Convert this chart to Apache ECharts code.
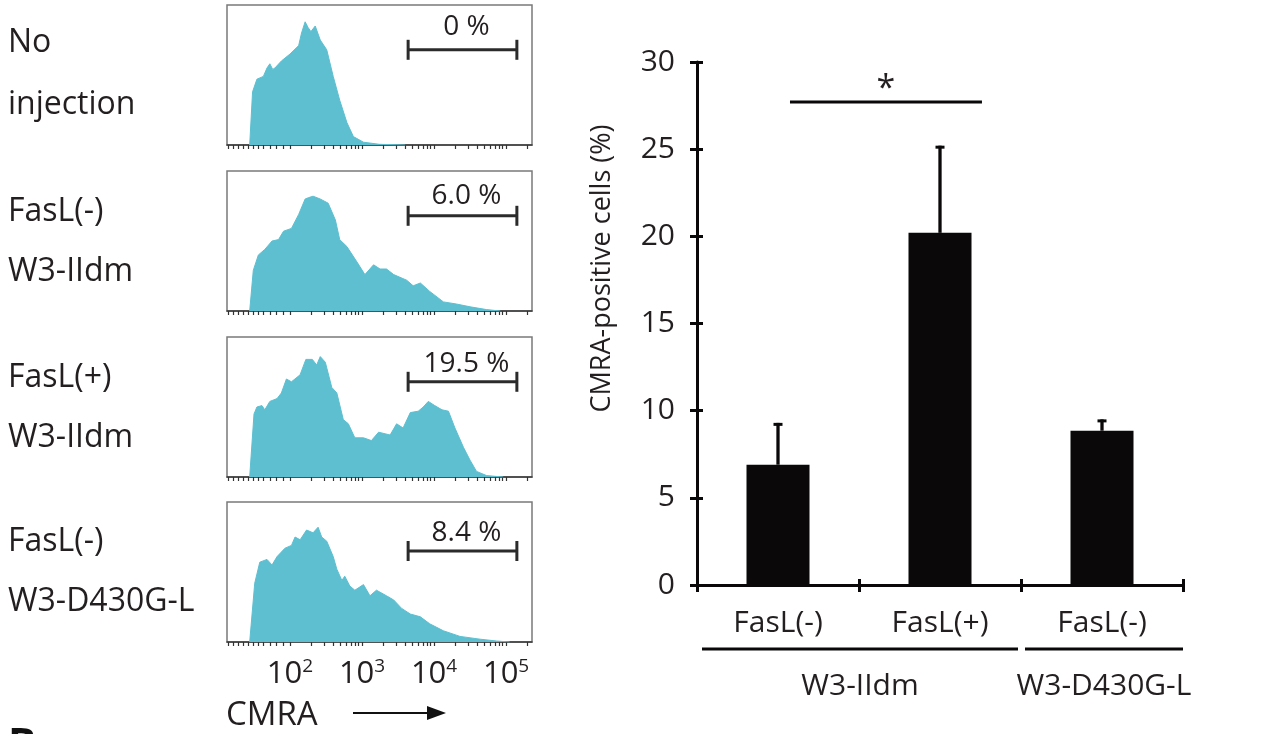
<!DOCTYPE html>
<html><head><meta charset="utf-8">
<script src="https://cdn.jsdelivr.net/npm/echarts@6/dist/echarts.min.js"></script>
<style>html,body{margin:0;padding:0;background:#fff}#c{width:1280px;height:734px}</style>
</head><body><div id="c"></div>
<script>
// ---------- data: flow cytometry histograms (x = log10 CMRA, y = % of panel height) ----------
const panelLabels = [['No', 'injection'], ['FasL(-)', 'W3-IIdm'], ['FasL(+)', 'W3-IIdm'], ['FasL(-)', 'W3-D430G-L']];
const gatePercents = ['0 %', '6.0 %', '19.5 %', '8.4 %'];
const gateRange = [3.64, 5.15];
const histDecades = [2, 3, 4, 5];
const histDecadeLabels = ['2', '3', '4', '5'];
const histTickPositions = [1.14, 1.21, 1.28, 1.35, 1.42, 1.49, 1.56, 1.63, 1.72, 1.81, 1.90,
  2.00, 2.30, 2.48, 2.60, 2.70, 2.78, 2.85, 2.90, 2.95,
  3.00, 3.30, 3.48, 3.60, 3.70, 3.78, 3.85, 3.90, 3.95,
  4.00, 4.30, 4.48, 4.60, 4.70, 4.78, 4.85, 4.90, 4.95,
  5.00, 5.30];

const noInjection = [[1.44, 0], [1.48, 38], [1.54, 47], [1.63, 49], [1.68, 55], [1.72, 58], [1.76, 54], [1.79, 55],
  [1.88, 60], [2.00, 65], [2.12, 71], [2.16, 80], [2.21, 88], [2.25, 84], [2.29, 81], [2.35, 85], [2.42, 75],
  [2.51, 68], [2.60, 49], [2.69, 32], [2.79, 16], [2.88, 6], [3.02, 2], [3.24, 0.5], [3.60, 0]];

const fasLNegIIdm = [[1.44, 0], [1.49, 29], [1.56, 40], [1.65, 44], [1.75, 50], [1.84, 51], [1.91, 57], [2.02, 59],
  [2.12, 69], [2.21, 80], [2.26, 81], [2.32, 82], [2.42, 80], [2.53, 77], [2.63, 65], [2.69, 51], [2.79, 46],
  [2.93, 35], [3.04, 26], [3.16, 33], [3.25, 30], [3.34, 30], [3.44, 26], [3.62, 22], [3.71, 18], [3.81, 20],
  [3.94, 14], [4.13, 6.5], [4.31, 5], [4.50, 3], [4.73, 1], [4.92, 0]];

const fasLPosIIdm = [[1.44, 0], [1.50, 45], [1.54, 50], [1.61, 51], [1.65, 48], [1.72, 54], [1.82, 56], [1.88, 60], [1.95, 70],
  [2.02, 68], [2.14, 73], [2.22, 84], [2.31, 84], [2.37, 80], [2.42, 86], [2.49, 82], [2.58, 64], [2.65, 60],
  [2.74, 41], [2.81, 38], [2.90, 28], [3.02, 28], [3.13, 26], [3.23, 32], [3.39, 30], [3.48, 38], [3.57, 35],
  [3.67, 46], [3.78, 47], [3.85, 50], [3.92, 54], [4.01, 51], [4.11, 48], [4.20, 47], [4.29, 35], [4.41, 21],
  [4.50, 12], [4.59, 4], [4.73, 1], [4.96, 0]];

const fasLNegD430 = [[1.44, 0], [1.51, 42], [1.58, 57], [1.68, 59], [1.75, 55], [1.82, 61], [1.93, 67], [2.02, 69],
  [2.07, 75], [2.14, 73], [2.23, 80], [2.32, 78], [2.39, 82], [2.44, 75], [2.51, 72], [2.60, 61], [2.65, 52],
  [2.72, 44], [2.76, 47], [2.83, 40], [2.90, 37], [3.02, 41], [3.11, 33], [3.20, 37], [3.34, 33], [3.44, 30],
  [3.55, 24], [3.67, 20], [3.81, 18], [3.94, 13], [4.13, 8], [4.36, 4], [4.64, 2], [4.87, 0.7], [5.05, 0]];

const histSeriesData = [noInjection, fasLNegIIdm, fasLPosIIdm, fasLNegD430];

// ---------- data: bar chart ----------
const categories = ['FasL(-)', 'FasL(+)', 'FasL(-)'];
const groupNames = ['W3-IIdm', 'W3-D430G-L'];
const groupSpans = [[0, 2], [2, 3]];
const meanValues = [6.9, 20.2, 8.85];
const errorValues = [2.4, 5.0, 0.65];
const significance = '*';

// ---------- layout / styling ----------
const FONT = '"Open Sans", "Noto Sans", sans-serif';
const INK = '#231f20';
const BAR = '#0b0809';
const HIST = '#5dbfd0';
const histTops = [5, 171, 337, 502];
const gateLevels = [68, 68, 68, 65];
const gateLabelLevels = [84, 82, 81, 78];
const labelMiddles = [[43, 105], [212, 272], [378, 438], [542, 602]];
const sigSpan = [0.574, 1.759];
const sigLevel = 27.7;

const grids = histTops.map(t => ({left: 227, top: t, width: 305, height: 140, show: true, borderColor: '#7a7a7a', borderWidth: 1.5}));
grids.push({left: 697, top: 62, width: 486, height: 523});

const xAxes = histTops.map((t, i) => ({
  gridIndex: i, type: 'value', min: 1.125, max: 5.36, position: 'bottom',
  axisLine: {show: true, onZero: false, lineStyle: {color: '#3a3a3a', width: 1.5}},
  axisTick: {show: true, customValues: histTickPositions, length: 4, lineStyle: {color: '#333', width: 1.2}},
  axisLabel: {
    show: i === 3, customValues: histDecades, margin: 15,
    formatter: v => '{b|10}{s|' + histDecadeLabels[histDecades.indexOf(Math.round(v))] + '}',
    rich: {b: {fontSize: 31, color: INK, fontFamily: FONT}, s: {fontSize: 19, color: INK, fontFamily: FONT, padding: [0, 0, 16, 0]}}
  },
  splitLine: {show: false}
}));
xAxes.push({
  gridIndex: 4, type: 'category', position: 'bottom', data: categories.map((c, i) => String(i)),
  axisLine: {lineStyle: {color: BAR, width: 3}},
  axisTick: {show: true, length: 7, lineStyle: {color: BAR, width: 3}},
  axisLabel: {formatter: (v, i) => categories[i], fontSize: 30, color: INK, margin: 23, fontFamily: FONT}
});
xAxes.push({
  gridIndex: 4, type: 'category', position: 'bottom', data: categories.map((c, i) => String(i)),
  axisLine: {show: false}, axisLabel: {show: false},
  axisTick: {show: true, inside: true, length: 6, lineStyle: {color: BAR, width: 3}}
});

const yAxes = histTops.map((t, i) => ({gridIndex: i, type: 'value', min: 0, max: 100, show: false}));
yAxes.push({
  gridIndex: 4, type: 'value', position: 'left', min: 0, max: 30, interval: 5,
  axisLine: {show: true, lineStyle: {color: BAR, width: 3}},
  axisTick: {show: true, length: 7, lineStyle: {color: BAR, width: 3}},
  axisLabel: {fontSize: 30, color: INK, margin: 22, fontFamily: FONT},
  splitLine: {show: false},
  name: 'CMRA-positive cells (%)', nameLocation: 'middle', nameGap: 81,
  nameTextStyle: {fontSize: 27, color: INK, fontFamily: FONT, padding: [0, 0, 0, 110]}
});
yAxes.push({
  gridIndex: 4, type: 'value', position: 'left', min: 0, max: 30, interval: 5,
  axisLine: {show: false}, axisLabel: {show: false}, splitLine: {show: false},
  axisTick: {show: true, inside: true, length: 6, lineStyle: {color: BAR, width: 3}}
});

const series = [];
histSeriesData.forEach((d, i) => {
  series.push({
    type: 'line', xAxisIndex: i, yAxisIndex: i, data: d, symbol: 'none', silent: true,
    lineStyle: {color: HIST, width: 1}, areaStyle: {color: HIST, opacity: 1}, z: 2
  });
  series.push({
    type: 'custom', xAxisIndex: i, yAxisIndex: i, data: [gateRange], silent: true, z: 5,
    renderItem: (params, api) => {
      const a = api.coord([api.value(0), gateLevels[i]]);
      const b = api.coord([api.value(1), gateLevels[i]]);
      const lab = api.coord([(api.value(0) + api.value(1)) / 2, gateLabelLevels[i]]);
      const st = {stroke: '#2b2b2b', lineWidth: 3};
      return {type: 'group', children: [
        {type: 'line', shape: {x1: a[0], y1: a[1], x2: b[0], y2: b[1]}, style: st},
        {type: 'line', shape: {x1: a[0], y1: a[1] - 10, x2: a[0], y2: a[1] + 10}, style: st},
        {type: 'line', shape: {x1: b[0], y1: b[1] - 10, x2: b[0], y2: b[1] + 10}, style: st},
        {type: 'text', style: {text: gatePercents[i], x: lab[0] + 4, y: lab[1], fill: INK,
          font: '28px ' + FONT, align: 'center', verticalAlign: 'middle'}}
      ]};
    }
  });
});

series.push({
  type: 'bar', xAxisIndex: 4, yAxisIndex: 4, data: meanValues, barWidth: 63,
  itemStyle: {color: BAR}, silent: true, z: 3
});
series.push({
  type: 'custom', xAxisIndex: 4, yAxisIndex: 4, silent: true, z: 4,
  data: meanValues.map((m, i) => [i, m, errorValues[i]]),
  renderItem: (params, api) => {
    const i = api.value(0), m = api.value(1), e = api.value(2);
    const p0 = api.coord([i, m]), p1 = api.coord([i, m + e]);
    return {type: 'group', children: [
      {type: 'line', shape: {x1: p0[0], y1: p0[1], x2: p1[0], y2: p1[1]}, style: {stroke: BAR, lineWidth: 3.3}},
      {type: 'line', shape: {x1: p1[0] - 4.5, y1: p1[1] + 1.5, x2: p1[0] + 4.5, y2: p1[1] + 1.5}, style: {stroke: BAR, lineWidth: 3}}
    ]};
  }
});
series.push({
  type: 'custom', xAxisIndex: 4, yAxisIndex: 4, silent: true, z: 4, data: [[0, 0]],
  renderItem: (params, api) => {
    const bw = api.size([1, 0])[0];
    const c0 = api.coord([0, 0]);
    const left = c0[0] - bw / 2;
    const base = c0[1];
    const sy = api.coord([0, sigLevel])[1];
    const children = [
      {type: 'line', shape: {x1: left + sigSpan[0] * bw, y1: sy, x2: left + sigSpan[1] * bw, y2: sy}, style: {stroke: BAR, lineWidth: 3}},
      {type: 'text', style: {text: significance, x: left + (sigSpan[0] + sigSpan[1]) / 2 * bw, y: sy - 13,
        fill: INK, font: '34px ' + FONT, align: 'center', verticalAlign: 'middle'}}
    ];
    groupSpans.forEach((s, g) => {
      const x1 = left + s[0] * bw + (g === 0 ? 5 : 4), x2 = left + s[1] * bw - (g === 0 ? 3 : 0);
      children.push({type: 'line', shape: {x1: x1, y1: base + 64, x2: x2, y2: base + 64}, style: {stroke: BAR, lineWidth: 3}});
      children.push({type: 'text', style: {text: groupNames[g], x: (x1 + x2) / 2, y: base + 101,
        fill: INK, font: '30px ' + FONT, align: 'center', verticalAlign: 'middle'}});
    });
    return {type: 'group', children: children};
  }
});

const graphics = [];
panelLabels.forEach((pair, i) => pair.forEach((t, j) => {
  graphics.push({type: 'text', x: 8, y: labelMiddles[i][j], silent: true,
    style: {text: t, font: '32px ' + FONT, fill: INK, verticalAlign: 'middle'}});
}));
graphics.push({type: 'text', x: 226, y: 716, silent: true, style: {text: 'CMRA', font: '33px ' + FONT, fill: INK, verticalAlign: 'middle'}});
graphics.push({type: 'line', silent: true, shape: {x1: 353, y1: 713, x2: 432, y2: 713}, style: {stroke: '#111', lineWidth: 2.2}});
graphics.push({type: 'polygon', silent: true, shape: {points: [[427, 706], [446, 713], [427, 720]]}, style: {fill: '#111'}});
graphics.push({type: 'text', x: 8, y: 746, silent: true, style: {text: 'B', font: 'bold 42px ' + FONT, fill: '#111', verticalAlign: 'middle'}});

const chart = echarts.init(document.getElementById('c'));
chart.setOption({
  animation: false,
  backgroundColor: '#fff',
  textStyle: {fontFamily: FONT},
  grid: grids, xAxis: xAxes, yAxis: yAxes, series: series, graphic: graphics
});
</script></body></html>
